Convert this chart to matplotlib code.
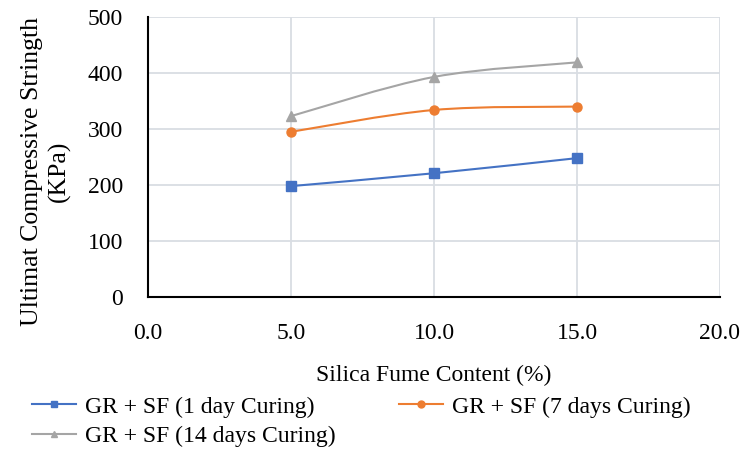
import numpy as np
import matplotlib.pyplot as plt
from matplotlib.path import Path
from matplotlib.patches import PathPatch
from matplotlib.lines import Line2D

plt.rcParams["font.family"] = ["Liberation Serif", "DejaVu Serif"]

# Silica fume content (%) and strength (KPa) per curing time
silica = [5.0, 10.0, 15.0]
day1 = [198, 221, 248]
day7 = [295, 334, 340]
day14 = [323, 393, 419]

series = [
    ("GR + SF (1 day Curing)", day1, "#4472C4", "s"),
    ("GR + SF (7 days Curing)", day7, "#ED7D31", "o"),
    ("GR + SF (14 days Curing)", day14, "#A5A5A5", "^"),
]


def smooth_path(x, y, t=1 / 6):
    # Catmull-Rom style bezier through the points, like a spreadsheet "smoothed line"
    x = np.asarray(x, float)
    y = np.asarray(y, float)
    verts = [(x[0], y[0])]
    codes = [Path.MOVETO]
    n = len(x)
    for i in range(n - 1):
        x0, y0 = (x[i - 1], y[i - 1]) if i > 0 else (x[i], y[i])
        x3, y3 = (x[i + 2], y[i + 2]) if i + 2 < n else (x[i + 1], y[i + 1])
        c1 = (x[i] + (x[i + 1] - x0) * t, y[i] + (y[i + 1] - y0) * t)
        c2 = (x[i + 1] - (x3 - x[i]) * t, y[i + 1] - (y3 - y[i]) * t)
        verts += [c1, c2, (x[i + 1], y[i + 1])]
        codes += [Path.CURVE4] * 3
    return Path(verts, codes)


fig = plt.figure(figsize=(7.43, 4.55), dpi=100)
ax = fig.add_axes([148 / 743, 1 - 297 / 455, (720 - 148) / 743, 280 / 455])

handles = {}
for label, vals, color, marker in series:
    ax.add_patch(PathPatch(smooth_path(silica, vals), facecolor="none",
                           edgecolor=color, linewidth=1.5, zorder=3))
    ax.plot(silica, vals, linestyle="none", marker=marker, markersize=6.5,
            color=color, zorder=4)
    handles[label] = Line2D([], [], color=color, linewidth=1.5, marker=marker,
                            markersize=5, label=label)

ax.set_xlim(0, 20)
ax.set_ylim(0, 500)
ax.set_xticks([0, 5, 10, 15, 20])
ax.set_xticklabels(["0.0", "5.0", "10.0", "15.0", "20.0"])
ax.set_yticks([0, 100, 200, 300, 400, 500])
ax.grid(True, color="#D9DDE3", linewidth=1.3)
ax.set_axisbelow(True)
for side in ["top", "right"]:
    ax.spines[side].set_visible(False)
for side in ["left", "bottom"]:
    ax.spines[side].set_linewidth(1.5)
    ax.spines[side].set_color("black")
ax.tick_params(length=0, labelsize=17)
ax.tick_params(axis="x", pad=19)
ax.tick_params(axis="y", pad=18)

ax.set_xlabel("Silica Fume Content (%)", fontsize=17, labelpad=15)
ax.set_ylabel("Ultimat Compressive Stringth\n(KPa)", fontsize=18.5,
              linespacing=1.25)
ax.yaxis.set_label_coords(-0.135, 0.45)

# row-major legend order: ncol=2 fills columns first
order = [series[0][0], series[2][0], series[1][0]]
fig.legend(handles=[handles[k] for k in order], loc="upper left",
           bbox_to_anchor=(32 / 743, 1 - 396 / 455),
           ncol=2, frameon=False, fontsize=17, handlelength=1.87,
           handletextpad=0.38, columnspacing=2.67, labelspacing=0.35,
           borderaxespad=0, borderpad=0)

fig.savefig("out.png", dpi=100)
